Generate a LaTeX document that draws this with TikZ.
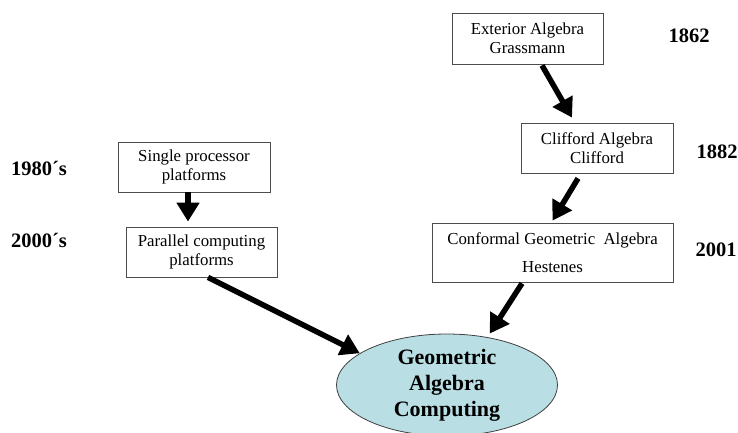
\documentclass[tikz,border=0pt]{standalone}
\usepackage{fontspec}
\setmainfont{Liberation Serif}
\usepackage{tikz}
\usetikzlibrary{arrows.meta,shapes.geometric}

\begin{document}
\begin{tikzpicture}[x=1pt,y=-1pt,
  box/.style={draw=black!70,line width=0.8pt,rectangle,align=center,inner sep=0pt,font=\fontsize{16.8}{19.5}\selectfont},
  year/.style={font=\fontsize{20.5}{24}\selectfont\bfseries},
  goal/.style={draw=black!75,line width=0.8pt,ellipse,fill=gacyan,align=center,inner sep=0pt,
    minimum width=221pt,minimum height=94pt,font=\fontsize{22}{26}\selectfont\bfseries},
  flow/.style={-{Triangle[length=19pt,width=22pt]},draw=black,line width=5.5pt}]
  \definecolor{gacyan}{RGB}{185,223,228}
  \useasboundingbox (0,0) rectangle (738,433);
  \node[box,minimum width=151pt,minimum height=51pt] (ext) at (527.5,38.5) {Exterior Algebra\\Grassmann};
  \node[box,minimum width=152pt,minimum height=50pt] (cliff) at (597,148) {Clifford Algebra\\Clifford};
  \node[box,minimum width=241pt,minimum height=59pt] (conf) at (552.5,252.5) {Conformal Geometric\ \ Algebra\\[9pt]Hestenes};
  \node[box,minimum width=152pt,minimum height=50pt] (single) at (194,167) {Single processor\\platforms};
  \node[box,minimum width=151pt,minimum height=50pt] (parallel) at (201.5,252) {Parallel computing\\platforms};
  \node[goal] (ga) at (447,385) {Geometric\\Algebra\\Computing};
  \node[year] (y1862) at (689,36) {1862};
  \node[year] (y1882) at (717,152) {1882};
  \node[year] (y2001) at (716,250) {2001};
  \node[year] (y1980) at (39,168) {1980´s};
  \node[year] (y2000) at (39,240) {2000´s};
  \draw[flow] ([xshift=14.5pt,yshift=-1pt]ext.south) -- ([xshift=-25pt,yshift=5pt]cliff.north);
  \draw[flow] ([xshift=-19pt,yshift=-5pt]cliff.south) -- ([yshift=2pt]conf.north);
  \draw[flow] ([xshift=-6pt]single.south) -- ([xshift=-13.5pt,yshift=5pt]parallel.north);
  \draw[flow] ([xshift=6.5pt]parallel.south) -- (ga.160);
  \draw[flow] ([xshift=-30.5pt,yshift=-1pt]conf.south) -- ([yshift=4pt]ga.48);
\end{tikzpicture}
\end{document}
